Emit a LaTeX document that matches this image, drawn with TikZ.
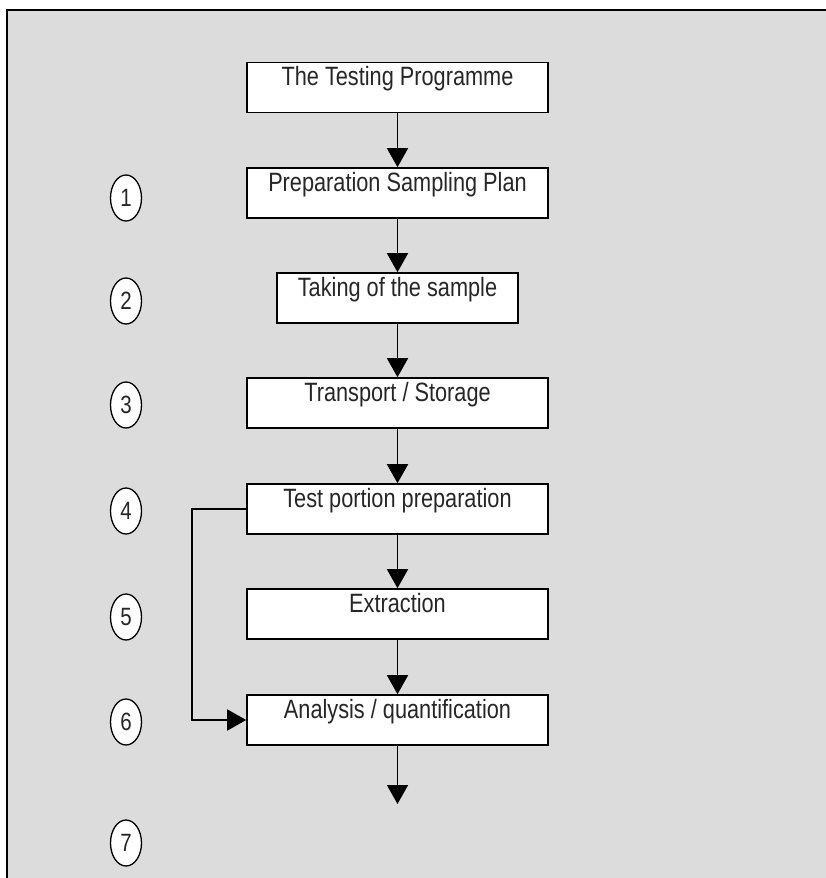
\documentclass[tikz,border=0pt]{standalone}
\usepackage{fontspec}
\setmainfont{Liberation Sans}[FakeStretch=0.82]
\usepackage{xcolor}
\usetikzlibrary{positioning, shapes.geometric, arrows.meta}

\definecolor{panelgray}{HTML}{DCDCDC}
\definecolor{inkgray}{HTML}{262626}

\tikzset{
    stepbox/.style={draw, fill=white, line width=1.6pt, minimum width=301pt,
        inner sep=4pt, text height=19pt, text depth=23pt, font=\fontsize{26.5}{28}\selectfont,
        text=inkgray},
    stepno/.style={draw, ellipse, fill=white, line width=1.3pt, minimum width=31pt,
        minimum height=46pt, inner sep=0pt, font=\fontsize{25}{28}\selectfont, text=inkgray},
    flow/.style={line width=1.6pt, -{Triangle[width=21pt,length=19pt]}}
}

\begin{document}
\begin{tikzpicture}[x=1pt, y=-1pt]
        \useasboundingbox (0,0) rectangle (825,878);
        \draw[fill=panelgray, line width=2pt] (7,10) rectangle (840,890);

        % Process steps
        \node[stepbox] (testprog) at (397.5, 87.5) {The Testing Programme};
        \node[stepbox] (plan) at (397.5, 193) {Preparation Sampling Plan};
        \node[stepbox, minimum width=241pt] (sample) at (397.5, 298) {Taking of the sample};
        \node[stepbox] (transport) at (397.5, 403) {Transport / Storage};
        \node[stepbox] (portion) at (397.5, 509) {Test portion preparation};
        \node[stepbox] (extraction) at (397.5, 614) {Extraction};
        \node[stepbox] (analysis) at (397.5, 720) {Analysis / quantification};
        \coordinate (result) at (397.5, 804);
        \coordinate (bypass) at (192, 509);

        % Step numbers
        \foreach \n/\y in {1/198, 2/301, 3/405, 4/511, 5/617, 6/722, 7/843}
            \node[stepno] (no\n) at (126, \y) {\n};

        % Connectors
        \draw[flow] (testprog) -- (plan);
        \draw[flow] (plan) -- (sample);
        \draw[flow] (sample) -- (transport);
        \draw[flow] (transport) -- (portion);
        \draw[flow] (portion) -- (extraction);
        \draw[flow] (extraction) -- (analysis);
        \draw[flow] (analysis) -- (result);
        \draw[flow] (portion.west) -- (bypass) |- (analysis.west);
    \end{tikzpicture}
\end{document}
